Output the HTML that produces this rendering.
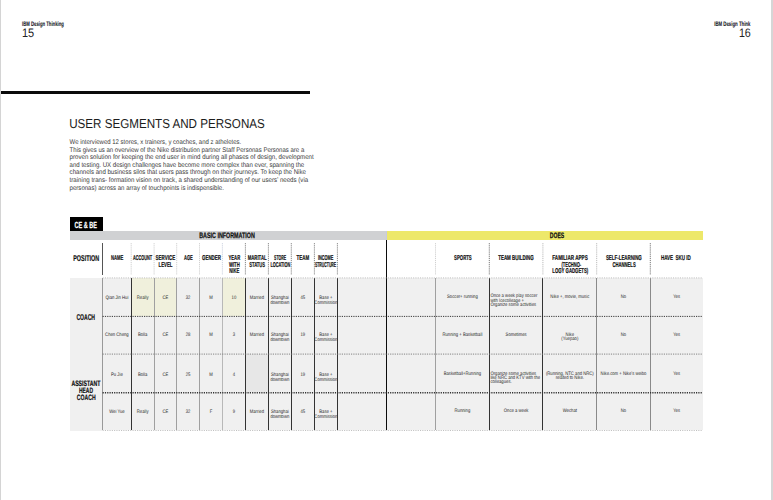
<!DOCTYPE html>
<html><head><meta charset="utf-8"><title>User Segments and Personas</title>
<style>
html,body{margin:0;padding:0;background:#fff;}
body{width:773px;height:500px;position:relative;overflow:hidden;font-family:"Liberation Sans",sans-serif;color:#111;}
.a{position:absolute;}
.x{position:absolute;left:0;top:0;white-space:nowrap;line-height:1;transform-origin:0 0;text-rendering:geometricPrecision;}
.h{font-weight:bold;}
</style></head><body>

<div class="a" style="left:0.00px;top:0.00px;width:1.00px;height:500.00px;background:#d4d4d4"></div>
<div class="a" style="left:771.00px;top:0.00px;width:2.00px;height:500.00px;background:#d6d6d6"></div>
<div class="x h" style="font-size:26.00px;color:#1a1a2a;-webkit-text-stroke:0.40px #1a1a2a;transform:translate(22.10px,20.70px) scale(0.1622,0.2500);">IBM Design Thinking</div>
<div class="x" style="font-size:49.20px;color:#222;transform:translate(22.00px,26.79px) scale(0.2229,0.2500);">15</div>
<div class="x h" style="font-size:26.00px;color:#1a1a2a;-webkit-text-stroke:0.40px #1a1a2a;transform:translate(714.20px,20.70px) scale(0.1660,0.2500);">IBM Design Think</div>
<div class="x" style="font-size:49.20px;color:#222;transform:translate(738.90px,26.79px) scale(0.2174,0.2500);">16</div>
<div class="a" style="left:1.00px;top:91.10px;width:308.90px;height:2.60px;background:#0a0a0a"></div>
<div class="x" style="font-size:52.00px;color:#1c1c1c;transform:translate(69.20px,117.20px) scale(0.2234,0.2500);">USER SEGMENTS AND PERSONAS</div>
<div class="x" style="font-size:27.20px;color:#3a3a3a;transform:translate(69.60px,138.44px) scale(0.2211,0.2500);">We interviewed 12 stores, x trainers, y coaches, and z atheletes.</div>
<div class="x" style="font-size:27.20px;color:#3a3a3a;transform:translate(69.60px,146.44px) scale(0.2216,0.2500);">This gives us an overview of the Nike distribution partner Staff Personas Personas are a</div>
<div class="x" style="font-size:27.20px;color:#3a3a3a;transform:translate(69.60px,153.44px) scale(0.2256,0.2500);">proven solution for keeping the end user in mind during all phases of design, development</div>
<div class="x" style="font-size:27.20px;color:#3a3a3a;transform:translate(69.60px,161.44px) scale(0.2233,0.2500);">and testing. UX design challenges have become more complex than ever, spanning the</div>
<div class="x" style="font-size:27.20px;color:#3a3a3a;transform:translate(69.60px,168.44px) scale(0.2237,0.2500);">channels and business silos that users pass through on their journeys. To keep the Nike</div>
<div class="x" style="font-size:27.20px;color:#3a3a3a;transform:translate(69.60px,176.44px) scale(0.2254,0.2500);">training trans- formation vision on track, a shared understanding of our users’ needs (via</div>
<div class="x" style="font-size:27.20px;color:#3a3a3a;transform:translate(69.60px,184.44px) scale(0.2228,0.2500);">personas) across an array of touchpoints is indispensible.</div>
<div class="a" style="left:69.90px;top:217.00px;width:33.10px;height:14.20px;background:#000"></div>
<div class="x h" style="font-size:35.60px;color:#fff;-webkit-text-stroke:1.00px #fff;transform:translate(74.60px,220.67px) scale(0.1551,0.2500);">CE &amp; BE</div>
<div class="a" style="left:70.00px;top:231.10px;width:315.60px;height:9.30px;background:#d0d1d3"></div>
<div class="a" style="left:385.60px;top:231.10px;width:0.90px;height:9.30px;background:#c9cade"></div>
<div class="a" style="left:386.50px;top:231.10px;width:316.40px;height:9.30px;background:#ede86a"></div>
<div class="x h" style="font-size:31.60px;color:#111;-webkit-text-stroke:1.00px #111;transform:translate(199.20px,231.51px) scale(0.1700,0.2500);">BASIC INFORMATION</div>
<div class="x h" style="font-size:31.60px;color:#111;-webkit-text-stroke:1.00px #111;transform:translate(549.80px,231.51px) scale(0.1608,0.2500);">DOES</div>
<div class="a" style="left:70.00px;top:278.20px;width:32.40px;height:152.40px;background:#f0f0f0"></div>
<div class="a" style="left:102.40px;top:278.20px;width:600.50px;height:152.30px;background:#f0f0f0"></div>
<div class="a" style="left:131.20px;top:278.20px;width:45.50px;height:38.20px;background:#f0f0dc"></div>
<div class="a" style="left:222.40px;top:278.20px;width:23.00px;height:38.20px;background:#f0f0dc"></div>
<div class="a" style="left:245.40px;top:354.10px;width:23.00px;height:38.30px;background:#e7e7e7"></div>
<div class="a" style="left:102.25px;top:243.10px;width:0.70px;height:31.90px;background:#555"></div>
<div class="a" style="left:385.80px;top:240.30px;width:1.30px;height:190.20px;background:#0c0c0c"></div>
<div class="a" style="left:102.20px;top:278.20px;width:0.80px;height:152.30px;background:#999"></div>
<div class="a" style="left:130.80px;top:278.20px;width:0.80px;height:152.30px;background:#333"></div>
<div class="a" style="left:153.70px;top:278.20px;width:0.80px;height:152.30px;background:#a0a0a0"></div>
<div class="a" style="left:176.30px;top:278.20px;width:0.80px;height:152.30px;background:#a0a0a0"></div>
<div class="a" style="left:199.10px;top:278.20px;width:0.80px;height:152.30px;background:#a0a0a0"></div>
<div class="a" style="left:222.00px;top:278.20px;width:0.80px;height:152.30px;background:#b8b8b8"></div>
<div class="a" style="left:245.00px;top:278.20px;width:0.80px;height:152.30px;background:#333"></div>
<div class="a" style="left:268.00px;top:278.20px;width:0.80px;height:152.30px;background:#333"></div>
<div class="a" style="left:290.90px;top:278.20px;width:0.80px;height:152.30px;background:#333"></div>
<div class="a" style="left:314.00px;top:278.20px;width:0.80px;height:152.30px;background:#333"></div>
<div class="a" style="left:337.00px;top:278.20px;width:0.80px;height:152.30px;background:#333"></div>
<div class="a" style="left:435.05px;top:278.20px;width:0.90px;height:152.30px;background:#a0a0a0"></div>
<div class="a" style="left:488.90px;top:278.20px;width:0.80px;height:152.30px;background:#333"></div>
<div class="a" style="left:542.35px;top:278.20px;width:1.10px;height:152.30px;background:#333"></div>
<div class="a" style="left:596.20px;top:278.20px;width:1.00px;height:152.30px;background:#8a8a8a"></div>
<div class="a" style="left:649.80px;top:278.20px;width:1.00px;height:152.30px;background:#8a8a8a"></div>
<svg class="a" style="left:0;top:0" width="773" height="500" viewBox="0 0 773 500"><line x1="131.20" y1="243.10" x2="131.20" y2="275.00" stroke="#c4c4c4" stroke-width="0.8" stroke-dasharray="1.2 0.9"/><line x1="154.10" y1="243.10" x2="154.10" y2="275.00" stroke="#c4c4c4" stroke-width="0.8" stroke-dasharray="1.2 0.9"/><line x1="176.70" y1="243.10" x2="176.70" y2="275.00" stroke="#c4c4c4" stroke-width="0.8" stroke-dasharray="1.2 0.9"/><line x1="199.50" y1="243.10" x2="199.50" y2="275.00" stroke="#c4c4c4" stroke-width="0.8" stroke-dasharray="1.2 0.9"/><line x1="222.40" y1="243.10" x2="222.40" y2="275.00" stroke="#c0c8d8" stroke-width="0.8" stroke-dasharray="1.2 0.9"/><line x1="245.40" y1="243.10" x2="245.40" y2="275.00" stroke="#666" stroke-width="0.8" stroke-dasharray="1.2 0.9"/><line x1="268.40" y1="243.10" x2="268.40" y2="275.00" stroke="#666" stroke-width="0.8" stroke-dasharray="1.2 0.9"/><line x1="291.30" y1="243.10" x2="291.30" y2="275.00" stroke="#666" stroke-width="0.8" stroke-dasharray="1.2 0.9"/><line x1="314.40" y1="243.10" x2="314.40" y2="275.00" stroke="#666" stroke-width="0.8" stroke-dasharray="1.2 0.9"/><line x1="337.40" y1="243.10" x2="337.40" y2="275.00" stroke="#666" stroke-width="0.8" stroke-dasharray="1.2 0.9"/><line x1="435.50" y1="243.10" x2="435.50" y2="275.00" stroke="#c4c4c4" stroke-width="0.8" stroke-dasharray="1.2 0.9"/><line x1="489.30" y1="243.10" x2="489.30" y2="275.00" stroke="#555" stroke-width="0.8" stroke-dasharray="1.2 0.9"/><line x1="542.90" y1="243.10" x2="542.90" y2="275.00" stroke="#aaa" stroke-width="0.8" stroke-dasharray="1.2 0.9"/><line x1="596.70" y1="243.10" x2="596.70" y2="275.00" stroke="#aaa" stroke-width="0.8" stroke-dasharray="1.2 0.9"/><line x1="650.30" y1="243.10" x2="650.30" y2="275.00" stroke="#555" stroke-width="0.8" stroke-dasharray="1.2 0.9"/><line x1="102.60" y1="277.90" x2="702.90" y2="277.90" stroke="#b0b0b0" stroke-width="0.8" stroke-dasharray="1.1 1.2"/><line x1="102.60" y1="316.40" x2="702.90" y2="316.40" stroke="#222" stroke-width="0.9" stroke-dasharray="1.2 1.1"/><line x1="102.60" y1="354.10" x2="702.90" y2="354.10" stroke="#777" stroke-width="0.9" stroke-dasharray="1.2 1.1"/><line x1="102.60" y1="392.70" x2="702.90" y2="392.70" stroke="#333" stroke-width="1.4" stroke-dasharray="1.2 1.1"/><line x1="102.60" y1="430.50" x2="702.90" y2="430.50" stroke="#b0b0b0" stroke-width="0.8" stroke-dasharray="1.1 1.2"/></svg>
<div class="x h" style="font-size:28.00px;color:#111;-webkit-text-stroke:0.80px #111;transform:translate(111.10px,254.27px) scale(0.1480,0.2500);">NAME</div>
<div class="x h" style="font-size:28.00px;color:#111;-webkit-text-stroke:0.80px #111;transform:translate(132.90px,254.27px) scale(0.1372,0.2500);">ACCOUNT</div>
<div class="x h" style="font-size:28.00px;color:#111;-webkit-text-stroke:0.80px #111;transform:translate(155.60px,254.27px) scale(0.1593,0.2500);">SERVICE</div>
<div class="x h" style="font-size:28.00px;color:#111;-webkit-text-stroke:0.80px #111;transform:translate(158.50px,261.27px) scale(0.1540,0.2500);">LEVEL</div>
<div class="x h" style="font-size:28.00px;color:#111;-webkit-text-stroke:0.80px #111;transform:translate(184.00px,254.27px) scale(0.1434,0.2500);">AGE</div>
<div class="x h" style="font-size:28.00px;color:#111;-webkit-text-stroke:0.80px #111;transform:translate(202.00px,254.27px) scale(0.1578,0.2500);">GENDER</div>
<div class="x h" style="font-size:28.00px;color:#111;-webkit-text-stroke:0.80px #111;transform:translate(228.40px,254.27px) scale(0.1517,0.2500);">YEAR</div>
<div class="x h" style="font-size:28.00px;color:#111;-webkit-text-stroke:0.80px #111;transform:translate(228.90px,261.27px) scale(0.1510,0.2500);">WITH</div>
<div class="x h" style="font-size:28.00px;color:#111;-webkit-text-stroke:0.80px #111;transform:translate(229.30px,267.27px) scale(0.1495,0.2500);">NIKE</div>
<div class="x h" style="font-size:28.00px;color:#111;-webkit-text-stroke:0.80px #111;transform:translate(247.70px,254.27px) scale(0.1525,0.2500);">MARITAL</div>
<div class="x h" style="font-size:28.00px;color:#111;-webkit-text-stroke:0.80px #111;transform:translate(249.20px,261.27px) scale(0.1474,0.2500);">STATUS</div>
<div class="x h" style="font-size:28.00px;color:#111;-webkit-text-stroke:0.80px #111;transform:translate(274.10px,254.27px) scale(0.1240,0.2500);">STORE</div>
<div class="x h" style="font-size:28.00px;color:#111;-webkit-text-stroke:0.80px #111;transform:translate(270.40px,261.27px) scale(0.1374,0.2500);">LOCATION</div>
<div class="x h" style="font-size:28.00px;color:#111;-webkit-text-stroke:0.80px #111;transform:translate(296.50px,254.27px) scale(0.1588,0.2500);">TEAM</div>
<div class="x h" style="font-size:28.00px;color:#111;-webkit-text-stroke:0.80px #111;transform:translate(317.90px,254.27px) scale(0.1375,0.2500);">INCOME</div>
<div class="x h" style="font-size:28.00px;color:#111;-webkit-text-stroke:0.80px #111;transform:translate(315.00px,261.27px) scale(0.1222,0.2500);">STRUCTURE</div>
<div class="x h" style="font-size:28.00px;color:#111;-webkit-text-stroke:0.80px #111;transform:translate(454.10px,254.27px) scale(0.1529,0.2500);">SPORTS</div>
<div class="x h" style="font-size:28.00px;color:#111;-webkit-text-stroke:0.80px #111;transform:translate(498.20px,254.27px) scale(0.1592,0.2500);">TEAM BUILDING</div>
<div class="x h" style="font-size:28.00px;color:#111;-webkit-text-stroke:0.80px #111;transform:translate(552.30px,254.27px) scale(0.1645,0.2500);">FAMILIAR APPS</div>
<div class="x h" style="font-size:28.00px;color:#111;-webkit-text-stroke:0.80px #111;transform:translate(561.40px,261.27px) scale(0.1447,0.2500);">(TECHNO-</div>
<div class="x h" style="font-size:28.00px;color:#111;-webkit-text-stroke:0.80px #111;transform:translate(552.30px,267.27px) scale(0.1532,0.2500);">LOGY GADGETS)</div>
<div class="x h" style="font-size:28.00px;color:#111;-webkit-text-stroke:0.80px #111;transform:translate(605.90px,254.27px) scale(0.1581,0.2500);">SELF-LEARNING</div>
<div class="x h" style="font-size:28.00px;color:#111;-webkit-text-stroke:0.80px #111;transform:translate(612.40px,261.27px) scale(0.1498,0.2500);">CHANNELS</div>
<div class="x h" style="font-size:28.00px;color:#111;-webkit-text-stroke:0.80px #111;transform:translate(660.90px,254.27px) scale(0.1601,0.2500);">HAVE &nbsp;SKU ID</div>
<div class="x h" style="font-size:33.60px;color:#111;-webkit-text-stroke:0.80px #111;transform:translate(73.20px,254.09px) scale(0.1613,0.2500);">POSITION</div>
<div class="x h" style="font-size:33.60px;color:#111;-webkit-text-stroke:0.80px #111;transform:translate(76.40px,313.09px) scale(0.1510,0.2500);">COACH</div>
<div class="x h" style="font-size:31.20px;color:#111;-webkit-text-stroke:0.80px #111;transform:translate(71.40px,379.60px) scale(0.1656,0.2500);">ASSISTANT</div>
<div class="x h" style="font-size:31.20px;color:#111;-webkit-text-stroke:0.80px #111;transform:translate(79.00px,386.60px) scale(0.1584,0.2500);">HEAD</div>
<div class="x h" style="font-size:31.20px;color:#111;-webkit-text-stroke:0.80px #111;transform:translate(76.80px,393.60px) scale(0.1643,0.2500);">COACH</div>
<div class="x" style="font-size:20.00px;color:#2a2a2a;transform:translate(105.46px,294.97px) scale(0.2100,0.2500);">Qian Jin Hui</div>
<div class="x" style="font-size:20.00px;color:#2a2a2a;transform:translate(136.81px,294.97px) scale(0.2100,0.2500);">Really</div>
<div class="x" style="font-size:20.00px;color:#2a2a2a;transform:translate(162.48px,294.97px) scale(0.2100,0.2500);">CE</div>
<div class="x" style="font-size:20.00px;color:#2a2a2a;transform:translate(185.76px,294.97px) scale(0.2100,0.2500);">32</div>
<div class="x" style="font-size:20.00px;color:#2a2a2a;transform:translate(209.20px,294.97px) scale(0.2100,0.2500);">M</div>
<div class="x" style="font-size:20.00px;color:#2a2a2a;transform:translate(231.56px,294.97px) scale(0.2100,0.2500);">10</div>
<div class="x" style="font-size:20.00px;color:#2a2a2a;transform:translate(249.78px,294.97px) scale(0.2100,0.2500);">Married</div>
<div class="x" style="font-size:20.00px;color:#2a2a2a;transform:translate(270.98px,294.97px) scale(0.2100,0.2500);">Shanghai</div>
<div class="x" style="font-size:20.00px;color:#2a2a2a;transform:translate(270.39px,299.97px) scale(0.2100,0.2500);">downtown</div>
<div class="x" style="font-size:20.00px;color:#2a2a2a;transform:translate(300.51px,294.97px) scale(0.2100,0.2500);">45</div>
<div class="x" style="font-size:20.00px;color:#2a2a2a;transform:translate(319.30px,294.97px) scale(0.2100,0.2500);">Base +</div>
<div class="x" style="font-size:20.00px;color:#2a2a2a;transform:translate(314.35px,299.97px) scale(0.2100,0.2500);">Commission</div>
<div class="x" style="font-size:20.00px;color:#2a2a2a;transform:translate(105.11px,331.97px) scale(0.2100,0.2500);">Chen Cheng</div>
<div class="x" style="font-size:20.00px;color:#2a2a2a;transform:translate(137.98px,331.97px) scale(0.2100,0.2500);">Bolla</div>
<div class="x" style="font-size:20.00px;color:#2a2a2a;transform:translate(162.48px,331.97px) scale(0.2100,0.2500);">CE</div>
<div class="x" style="font-size:20.00px;color:#2a2a2a;transform:translate(185.76px,331.97px) scale(0.2100,0.2500);">28</div>
<div class="x" style="font-size:20.00px;color:#2a2a2a;transform:translate(209.20px,331.97px) scale(0.2100,0.2500);">M</div>
<div class="x" style="font-size:20.00px;color:#2a2a2a;transform:translate(232.73px,331.97px) scale(0.2100,0.2500);">3</div>
<div class="x" style="font-size:20.00px;color:#2a2a2a;transform:translate(249.78px,331.97px) scale(0.2100,0.2500);">Married</div>
<div class="x" style="font-size:20.00px;color:#2a2a2a;transform:translate(270.98px,331.97px) scale(0.2100,0.2500);">Shanghai</div>
<div class="x" style="font-size:20.00px;color:#2a2a2a;transform:translate(270.39px,336.97px) scale(0.2100,0.2500);">downtown</div>
<div class="x" style="font-size:20.00px;color:#2a2a2a;transform:translate(300.51px,331.97px) scale(0.2100,0.2500);">19</div>
<div class="x" style="font-size:20.00px;color:#2a2a2a;transform:translate(319.30px,331.97px) scale(0.2100,0.2500);">Base +</div>
<div class="x" style="font-size:20.00px;color:#2a2a2a;transform:translate(314.35px,336.97px) scale(0.2100,0.2500);">Commission</div>
<div class="x" style="font-size:20.00px;color:#2a2a2a;transform:translate(111.06px,371.97px) scale(0.2100,0.2500);">Pu Jie</div>
<div class="x" style="font-size:20.00px;color:#2a2a2a;transform:translate(137.98px,371.97px) scale(0.2100,0.2500);">Bolla</div>
<div class="x" style="font-size:20.00px;color:#2a2a2a;transform:translate(162.48px,371.97px) scale(0.2100,0.2500);">CE</div>
<div class="x" style="font-size:20.00px;color:#2a2a2a;transform:translate(185.76px,371.97px) scale(0.2100,0.2500);">25</div>
<div class="x" style="font-size:20.00px;color:#2a2a2a;transform:translate(209.20px,371.97px) scale(0.2100,0.2500);">M</div>
<div class="x" style="font-size:20.00px;color:#2a2a2a;transform:translate(232.73px,371.97px) scale(0.2100,0.2500);">4</div>
<div class="x" style="font-size:20.00px;color:#2a2a2a;transform:translate(270.98px,371.97px) scale(0.2100,0.2500);">Shanghai</div>
<div class="x" style="font-size:20.00px;color:#2a2a2a;transform:translate(270.39px,376.97px) scale(0.2100,0.2500);">downtown</div>
<div class="x" style="font-size:20.00px;color:#2a2a2a;transform:translate(300.51px,371.97px) scale(0.2100,0.2500);">19</div>
<div class="x" style="font-size:20.00px;color:#2a2a2a;transform:translate(319.30px,371.97px) scale(0.2100,0.2500);">Base +</div>
<div class="x" style="font-size:20.00px;color:#2a2a2a;transform:translate(314.35px,376.97px) scale(0.2100,0.2500);">Commission</div>
<div class="x" style="font-size:20.00px;color:#2a2a2a;transform:translate(109.16px,408.97px) scale(0.2100,0.2500);">Wei Yue</div>
<div class="x" style="font-size:20.00px;color:#2a2a2a;transform:translate(136.81px,408.97px) scale(0.2100,0.2500);">Really</div>
<div class="x" style="font-size:20.00px;color:#2a2a2a;transform:translate(162.48px,408.97px) scale(0.2100,0.2500);">CE</div>
<div class="x" style="font-size:20.00px;color:#2a2a2a;transform:translate(185.76px,408.97px) scale(0.2100,0.2500);">32</div>
<div class="x" style="font-size:20.00px;color:#2a2a2a;transform:translate(209.67px,408.97px) scale(0.2100,0.2500);">F</div>
<div class="x" style="font-size:20.00px;color:#2a2a2a;transform:translate(232.73px,408.97px) scale(0.2100,0.2500);">9</div>
<div class="x" style="font-size:20.00px;color:#2a2a2a;transform:translate(249.78px,408.97px) scale(0.2100,0.2500);">Married</div>
<div class="x" style="font-size:20.00px;color:#2a2a2a;transform:translate(270.98px,408.97px) scale(0.2100,0.2500);">Shanghai</div>
<div class="x" style="font-size:20.00px;color:#2a2a2a;transform:translate(270.39px,413.97px) scale(0.2100,0.2500);">downtown</div>
<div class="x" style="font-size:20.00px;color:#2a2a2a;transform:translate(300.51px,408.97px) scale(0.2100,0.2500);">45</div>
<div class="x" style="font-size:20.00px;color:#2a2a2a;transform:translate(319.30px,408.97px) scale(0.2100,0.2500);">Base +</div>
<div class="x" style="font-size:20.00px;color:#2a2a2a;transform:translate(314.35px,413.97px) scale(0.2100,0.2500);">Commission</div>
<div class="x" style="font-size:20.00px;color:#2a2a2a;transform:translate(447.05px,293.97px) scale(0.2100,0.2500);">Soccer+ running</div>
<div class="x" style="font-size:20.00px;color:#2a2a2a;transform:translate(490.40px,292.97px) scale(0.2100,0.2500);">Once a week play soccer</div>
<div class="x" style="font-size:20.00px;color:#2a2a2a;transform:translate(490.40px,297.97px) scale(0.2100,0.2500);">with Icecolleage +</div>
<div class="x" style="font-size:20.00px;color:#2a2a2a;transform:translate(490.40px,301.97px) scale(0.2100,0.2500);">Organize some activities</div>
<div class="x" style="font-size:20.00px;color:#2a2a2a;transform:translate(550.37px,293.97px) scale(0.2100,0.2500);">Nike +, movie, music</div>
<div class="x" style="font-size:20.00px;color:#2a2a2a;transform:translate(620.82px,293.97px) scale(0.2100,0.2500);">No</div>
<div class="x" style="font-size:20.00px;color:#2a2a2a;transform:translate(673.17px,293.97px) scale(0.2100,0.2500);">Yes</div>
<div class="x" style="font-size:20.00px;color:#2a2a2a;transform:translate(442.50px,331.97px) scale(0.2100,0.2500);">Running + Basketball</div>
<div class="x" style="font-size:20.00px;color:#2a2a2a;transform:translate(505.60px,331.97px) scale(0.2100,0.2500);">Sometimes</div>
<div class="x" style="font-size:20.00px;color:#2a2a2a;transform:translate(565.60px,331.97px) scale(0.2100,0.2500);">Nike</div>
<div class="x" style="font-size:20.00px;color:#2a2a2a;transform:translate(561.28px,335.97px) scale(0.2100,0.2500);">(Yuepao)</div>
<div class="x" style="font-size:20.00px;color:#2a2a2a;transform:translate(620.82px,331.97px) scale(0.2100,0.2500);">No</div>
<div class="x" style="font-size:20.00px;color:#2a2a2a;transform:translate(673.17px,331.97px) scale(0.2100,0.2500);">Yes</div>
<div class="x" style="font-size:20.00px;color:#2a2a2a;transform:translate(443.66px,370.97px) scale(0.2100,0.2500);">Basketball+Running</div>
<div class="x" style="font-size:20.00px;color:#2a2a2a;transform:translate(490.40px,370.97px) scale(0.2100,0.2500);">Organize some activities</div>
<div class="x" style="font-size:20.00px;color:#2a2a2a;transform:translate(490.40px,374.97px) scale(0.2100,0.2500);">like NRC and KTV with the</div>
<div class="x" style="font-size:20.00px;color:#2a2a2a;transform:translate(490.40px,378.97px) scale(0.2100,0.2500);">colleagues.</div>
<div class="x" style="font-size:20.00px;color:#2a2a2a;transform:translate(545.88px,370.97px) scale(0.2100,0.2500);">(Running, NTC and NRC)</div>
<div class="x" style="font-size:20.00px;color:#2a2a2a;transform:translate(555.68px,374.97px) scale(0.2100,0.2500);">related to Nike.</div>
<div class="x" style="font-size:20.00px;color:#2a2a2a;transform:translate(600.60px,370.97px) scale(0.2100,0.2500);">Nike.com + Nike’s weibo</div>
<div class="x" style="font-size:20.00px;color:#2a2a2a;transform:translate(673.17px,370.97px) scale(0.2100,0.2500);">Yes</div>
<div class="x" style="font-size:20.00px;color:#2a2a2a;transform:translate(454.58px,407.97px) scale(0.2100,0.2500);">Running</div>
<div class="x" style="font-size:20.00px;color:#2a2a2a;transform:translate(503.84px,407.97px) scale(0.2100,0.2500);">Once a week</div>
<div class="x" style="font-size:20.00px;color:#2a2a2a;transform:translate(562.72px,407.97px) scale(0.2100,0.2500);">Wechat</div>
<div class="x" style="font-size:20.00px;color:#2a2a2a;transform:translate(620.82px,407.97px) scale(0.2100,0.2500);">No</div>
<div class="x" style="font-size:20.00px;color:#2a2a2a;transform:translate(673.17px,407.97px) scale(0.2100,0.2500);">Yes</div>
</body></html>
